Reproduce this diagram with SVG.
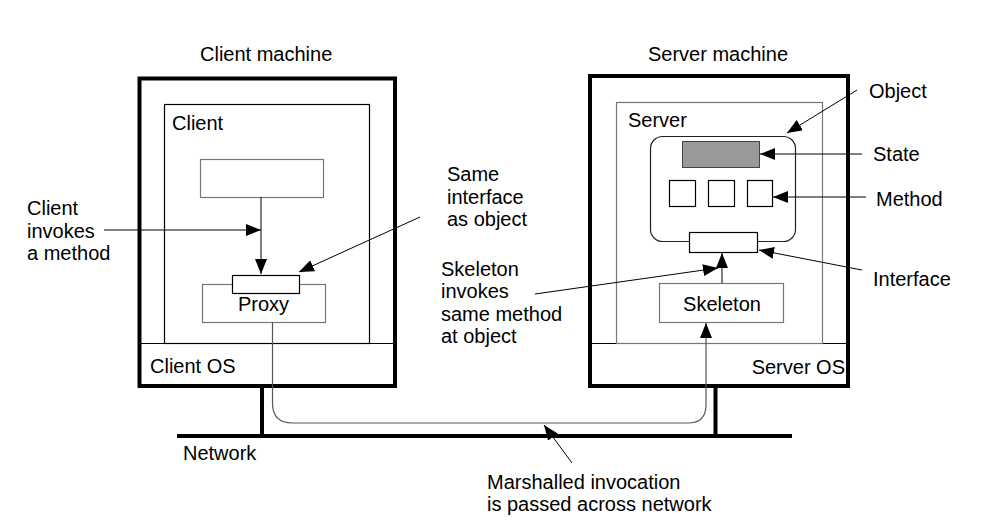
<svg xmlns="http://www.w3.org/2000/svg" width="982" height="523" viewBox="0 0 982 523">
<style>
text{font-family:"Liberation Sans",Arial,sans-serif;font-size:20px;fill:#000}
.mach{fill:none;stroke:#000;stroke-width:4}
.thin{fill:none;stroke:#000;stroke-width:1.2}
.gray{fill:#fff;stroke:#777;stroke-width:1.2}
.box{fill:#fff;stroke:#000;stroke-width:1.2}
.con{fill:none;stroke:#000;stroke-width:1}
.net{stroke:#000;stroke-width:4;fill:none}
</style>
<defs>
<marker id="ah" markerUnits="userSpaceOnUse" markerWidth="16" markerHeight="12" refX="15" refY="6" orient="auto">
<path d="M0,0 L15,6 L0,12 Z" fill="#000"/>
</marker>
</defs>
<rect width="982" height="523" fill="#fff"/>

<g id="client-machine">
<text x="200" y="61">Client machine</text>
<rect class="mach" x="139.5" y="78.5" width="255.5" height="307.5"/>
<line class="thin" x1="139.5" y1="343.5" x2="395" y2="343.5"/>
<text x="150" y="373">Client OS</text>
</g>
<g id="client">
<rect class="thin" x="164.5" y="104.5" width="205" height="239"/>
<text x="172" y="130">Client</text>
</g>
<g id="client-code">
<rect class="gray" x="200.5" y="159.5" width="123" height="38"/>
</g>
<g id="proxy">
<rect class="gray" x="202.5" y="284.5" width="123" height="38"/>
<rect class="box" x="232.5" y="275.5" width="67" height="18"/>
<text x="263.5" y="311" text-anchor="middle">Proxy</text>
</g>

<g id="server-machine">
<text x="718" y="61" text-anchor="middle">Server machine</text>
<rect class="mach" x="590" y="76" width="258" height="310"/>
<line class="thin" x1="590" y1="343.5" x2="848" y2="343.5"/>
<text x="845" y="374" text-anchor="end">Server OS</text>
</g>
<g id="server">
<rect x="616.5" y="102.5" width="206" height="241" fill="none" stroke="#777" stroke-width="1.2"/>
<text x="628" y="127">Server</text>
</g>
<g id="object">
<rect x="650.5" y="136.5" width="145" height="105" rx="12" fill="#fff" stroke="#222" stroke-width="1.2"/>
<rect x="682.5" y="141.5" width="77" height="26" fill="#999" stroke="#444" stroke-width="1"/>
<rect class="box" x="669.5" y="180.5" width="26" height="26"/>
<rect class="box" x="708.5" y="180.5" width="26" height="26"/>
<rect class="box" x="747.5" y="180.5" width="25" height="26"/>
<rect class="box" x="689.5" y="232.5" width="68" height="20"/>
</g>
<g id="skeleton">
<rect class="gray" x="659.5" y="283.5" width="124" height="39"/>
<text x="722" y="311" text-anchor="middle">Skeleton</text>
</g>

<g id="network">
<line class="net" x1="177" y1="436" x2="792" y2="436"/>
<line class="net" x1="262" y1="386" x2="262" y2="436"/>
<line class="net" x1="715.5" y1="386" x2="715.5" y2="436"/>
<text x="183" y="460">Network</text>
</g>

<g id="labels">
<text x="27" y="215">Client</text>
<text x="27" y="237.5">invokes</text>
<text x="27" y="260">a method</text>
<text x="447" y="181">Same</text>
<text x="447" y="204">interface</text>
<text x="447" y="226">as object</text>
<text x="441" y="276">Skeleton</text>
<text x="441" y="298">invokes</text>
<text x="441" y="321">same method</text>
<text x="441" y="343">at object</text>
<text x="869" y="98">Object</text>
<text x="873" y="161">State</text>
<text x="876" y="206">Method</text>
<text x="873" y="286">Interface</text>
<text x="487" y="489">Marshalled invocation</text>
<text x="487" y="511">is passed across network</text>
</g>

<g id="connectors">
<line class="con" x1="104" y1="230" x2="261" y2="230" marker-end="url(#ah)"/>
<line class="con" x1="261" y1="197" x2="261" y2="274" marker-end="url(#ah)"/>
<line class="con" x1="420" y1="217" x2="299" y2="272" marker-end="url(#ah)"/>
<line class="con" x1="535" y1="294" x2="718" y2="268" marker-end="url(#ah)"/>
<line class="con" x1="722" y1="283" x2="722" y2="253" marker-end="url(#ah)"/>
<line class="con" x1="857" y1="90" x2="787" y2="133" marker-end="url(#ah)"/>
<line class="con" x1="862" y1="154" x2="760" y2="154" marker-end="url(#ah)"/>
<line class="con" x1="866" y1="197" x2="773" y2="197" marker-end="url(#ah)"/>
<line class="con" x1="862" y1="270" x2="759" y2="250" marker-end="url(#ah)"/>
<line class="con" x1="572" y1="463" x2="544" y2="425" marker-end="url(#ah)"/>
<path d="M272.5,322 V403 Q272.5,423 292.5,423 H688 Q706,423 706,405 V323" fill="none" stroke="#555" stroke-width="1.2" marker-end="url(#ah)"/>
</g>
</svg>
